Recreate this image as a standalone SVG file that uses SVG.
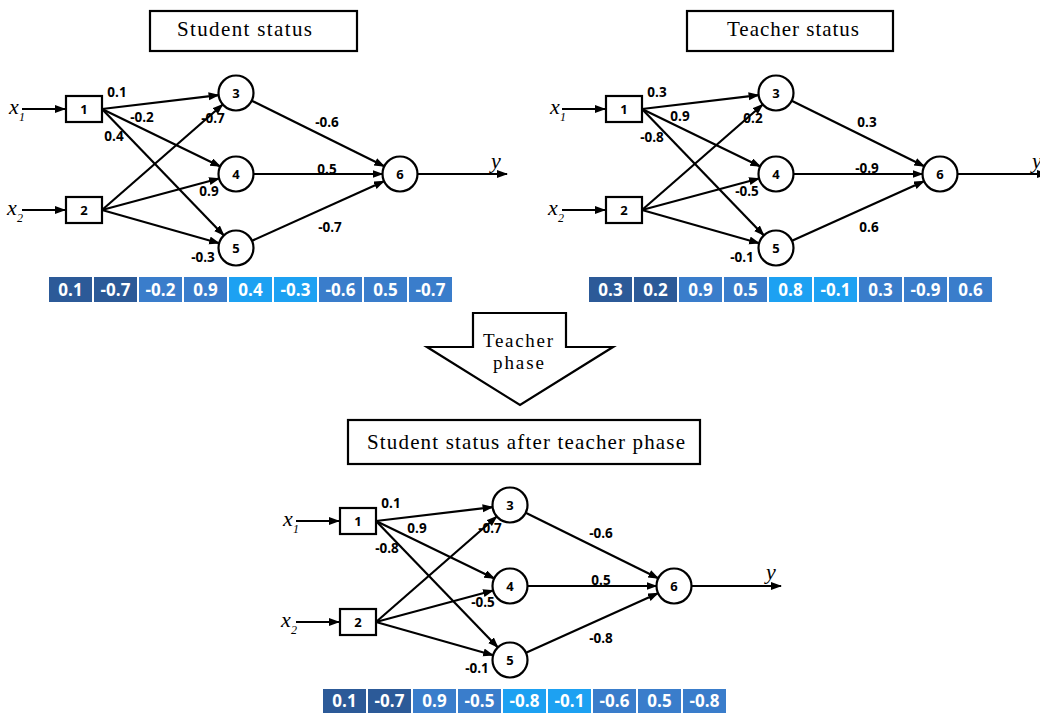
<svg xmlns="http://www.w3.org/2000/svg" width="1040" height="716" viewBox="0 0 1040 716">
<defs>
<style>
.box{fill:#fff;stroke:#000;stroke-width:2.2}
.node{fill:#fff;stroke:#000;stroke-width:2.2}
.edge{fill:none;stroke:#000;stroke-width:2.2;marker-end:url(#ah)}
.nl{font-family:"Open Sans","DejaVu Sans",sans-serif;font-weight:bold;font-size:13px;text-anchor:middle;fill:#000}
.el{font-family:"Open Sans","DejaVu Sans",sans-serif;font-weight:bold;font-size:13.5px;text-anchor:middle;fill:#000}
.var{font-family:"Liberation Serif","DejaVu Serif",serif;font-style:italic;font-size:22px;fill:#000}
.sub{font-family:"Liberation Serif","DejaVu Serif",serif;font-style:italic;font-size:12px;fill:#000}
.title{font-family:"Liberation Serif","DejaVu Serif",serif;font-size:21px;text-anchor:middle;fill:#000}
.ph{font-family:"Liberation Serif","DejaVu Serif",serif;font-size:19px;text-anchor:middle;fill:#000}
.cell{stroke:none}
.dk{fill:#2C5A98}
.md{fill:#3A7DCB}
.br{fill:#1DA1F2}
.ct{font-family:"Open Sans","DejaVu Sans",sans-serif;font-weight:bold;font-size:17px;text-anchor:middle;fill:#fff}
</style>
<marker id="ah" markerUnits="userSpaceOnUse" markerWidth="12" markerHeight="10" refX="10" refY="4" orient="auto">
<path d="M0,0 L11,4 L0,8 z" fill="#000"/>
</marker>
</defs>
<rect width="1040" height="716" fill="#fff"/>

<!-- Titles -->
<g id="title-student">
<rect class="box" x="150" y="11" width="207" height="40"/>
<text class="title" x="244.5" y="36" textLength="135" lengthAdjust="spacing">Student status</text>
</g>
<g id="title-teacher">
<rect class="box" x="687" y="11" width="206" height="40"/>
<text class="title" x="793" y="36" textLength="132" lengthAdjust="spacing">Teacher status</text>
</g>
<g id="teacher-phase-arrow">
<polygon class="box" points="473,313 566,313 566,347 613,347 520,405 427,347 473,347"/>
<text class="ph" x="518" y="347" textLength="70" lengthAdjust="spacing">Teacher</text>
<text class="ph" x="518.5" y="369" textLength="51" lengthAdjust="spacing">phase</text>
</g>
<g id="title-after">
<rect class="box" x="348" y="420" width="352" height="44"/>
<text class="title" x="526" y="449" textLength="318" lengthAdjust="spacing">Student status after teacher phase</text>
</g>

<!-- Network A: student status -->
<g id="net-student">
<g id="net-student-connectors">
<path class="edge" d="M22,109 L65,109"/>
<path class="edge" d="M22,210 L65,210"/>
<path class="edge" d="M102,109 L218.6,95.1"/>
<path class="edge" d="M102,109 L220.3,166.4"/>
<path class="edge" d="M102,109 L223.9,235.4"/>
<path class="edge" d="M102,210 L222.8,104.5"/>
<path class="edge" d="M102,210 L219.1,178.5"/>
<path class="edge" d="M102,210 L219.2,243.2"/>
<path class="edge" d="M251.7,100.7 L384.3,166.3"/>
<path class="edge" d="M253.5,174 L382.5,174"/>
<path class="edge" d="M252,240.8 L384,181.2"/>
<path class="edge" d="M417.5,174 L507,174"/>
<text class="el" x="117" y="96.8">0.1</text>
<text class="el" x="142" y="121.8">-0.2</text>
<text class="el" x="114" y="140.8">0.4</text>
<text class="el" x="213" y="122.8">-0.7</text>
<text class="el" x="209" y="195.8">0.9</text>
<text class="el" x="203" y="261.8">-0.3</text>
<text class="el" x="327" y="126.8">-0.6</text>
<text class="el" x="327" y="173.8">0.5</text>
<text class="el" x="330" y="231.8">-0.7</text>
</g>
<g id="s-x1"><text class="var" x="9" y="114">x</text><text class="sub" x="19" y="121">1</text></g>
<g id="s-x2"><text class="var" x="7" y="215">x</text><text class="sub" x="17" y="222">2</text></g>
<g id="s-y"><text class="var" x="491" y="168">y</text></g>
<g id="s-n1"><rect class="box" x="66" y="96" width="36" height="26"/><text class="nl" x="84" y="113.7">1</text></g>
<g id="s-n2"><rect class="box" x="66" y="197" width="36" height="26"/><text class="nl" x="84" y="214.7">2</text></g>
<g id="s-n3"><circle class="node" cx="236" cy="93" r="17.5"/><text class="nl" x="236" y="97.7">3</text></g>
<g id="s-n4"><circle class="node" cx="236" cy="174" r="17.5"/><text class="nl" x="236" y="178.7">4</text></g>
<g id="s-n5"><circle class="node" cx="236" cy="248" r="17.5"/><text class="nl" x="236" y="252.7">5</text></g>
<g id="s-n6"><circle class="node" cx="400" cy="174" r="17.5"/><text class="nl" x="400" y="178.7">6</text></g>
<g id="s-bar">
<rect class="cell dk" x="49" y="277" width="43" height="25"/>
<rect class="cell dk" x="94" y="277" width="43" height="25"/>
<rect class="cell md" x="139" y="277" width="43" height="25"/>
<rect class="cell md" x="184" y="277" width="43" height="25"/>
<rect class="cell br" x="229" y="277" width="43" height="25"/>
<rect class="cell br" x="274" y="277" width="43" height="25"/>
<rect class="cell md" x="319" y="277" width="43" height="25"/>
<rect class="cell md" x="364" y="277" width="43" height="25"/>
<rect class="cell md" x="409" y="277" width="43" height="25"/>
<text class="ct" x="70.5" y="295.5">0.1</text>
<text class="ct" x="115.5" y="295.5">-0.7</text>
<text class="ct" x="160.5" y="295.5">-0.2</text>
<text class="ct" x="205.5" y="295.5">0.9</text>
<text class="ct" x="250.5" y="295.5">0.4</text>
<text class="ct" x="295.5" y="295.5">-0.3</text>
<text class="ct" x="340.5" y="295.5">-0.6</text>
<text class="ct" x="385.5" y="295.5">0.5</text>
<text class="ct" x="430.5" y="295.5">-0.7</text>
</g>
</g>

<!-- Network B: teacher status -->
<g id="net-teacher" transform="translate(540,0)">
<g id="net-teacher-connectors">
<path class="edge" d="M22,109 L65,109"/>
<path class="edge" d="M22,210 L65,210"/>
<path class="edge" d="M102,109 L218.6,95.1"/>
<path class="edge" d="M102,109 L220.3,166.4"/>
<path class="edge" d="M102,109 L223.9,235.4"/>
<path class="edge" d="M102,210 L222.8,104.5"/>
<path class="edge" d="M102,210 L219.1,178.5"/>
<path class="edge" d="M102,210 L219.2,243.2"/>
<path class="edge" d="M251.7,100.7 L384.3,166.3"/>
<path class="edge" d="M253.5,174 L382.5,174"/>
<path class="edge" d="M252,240.8 L384,181.2"/>
<path class="edge" d="M417.5,174 L507,174"/>
<text class="el" x="117" y="96.8">0.3</text>
<text class="el" x="140" y="120.8">0.9</text>
<text class="el" x="112" y="141.8">-0.8</text>
<text class="el" x="213" y="122.8">0.2</text>
<text class="el" x="207" y="195.8">-0.5</text>
<text class="el" x="202" y="261.8">-0.1</text>
<text class="el" x="327" y="126.8">0.3</text>
<text class="el" x="327" y="172.8">-0.9</text>
<text class="el" x="329" y="231.8">0.6</text>
</g>
<g id="t-x1"><text class="var" x="10" y="114">x</text><text class="sub" x="20" y="121">1</text></g>
<g id="t-x2"><text class="var" x="8" y="215">x</text><text class="sub" x="18" y="222">2</text></g>
<g id="t-y"><text class="var" x="492" y="168">y</text></g>
<g id="t-n1"><rect class="box" x="66" y="96" width="36" height="26"/><text class="nl" x="84" y="113.7">1</text></g>
<g id="t-n2"><rect class="box" x="66" y="197" width="36" height="26"/><text class="nl" x="84" y="214.7">2</text></g>
<g id="t-n3"><circle class="node" cx="236" cy="93" r="17.5"/><text class="nl" x="236" y="97.7">3</text></g>
<g id="t-n4"><circle class="node" cx="236" cy="174" r="17.5"/><text class="nl" x="236" y="178.7">4</text></g>
<g id="t-n5"><circle class="node" cx="236" cy="248" r="17.5"/><text class="nl" x="236" y="252.7">5</text></g>
<g id="t-n6"><circle class="node" cx="400" cy="174" r="17.5"/><text class="nl" x="400" y="178.7">6</text></g>
<g id="t-bar">
<rect class="cell dk" x="49" y="277" width="43" height="25"/>
<rect class="cell dk" x="94" y="277" width="43" height="25"/>
<rect class="cell md" x="139" y="277" width="43" height="25"/>
<rect class="cell md" x="184" y="277" width="43" height="25"/>
<rect class="cell br" x="229" y="277" width="43" height="25"/>
<rect class="cell br" x="274" y="277" width="43" height="25"/>
<rect class="cell md" x="319" y="277" width="43" height="25"/>
<rect class="cell md" x="364" y="277" width="43" height="25"/>
<rect class="cell md" x="409" y="277" width="43" height="25"/>
<text class="ct" x="70.5" y="295.5">0.3</text>
<text class="ct" x="115.5" y="295.5">0.2</text>
<text class="ct" x="160.5" y="295.5">0.9</text>
<text class="ct" x="205.5" y="295.5">0.5</text>
<text class="ct" x="250.5" y="295.5">0.8</text>
<text class="ct" x="295.5" y="295.5">-0.1</text>
<text class="ct" x="340.5" y="295.5">0.3</text>
<text class="ct" x="385.5" y="295.5">-0.9</text>
<text class="ct" x="430.5" y="295.5">0.6</text>
</g>
</g>

<!-- Network C: student after teacher phase -->
<g id="net-after" transform="translate(274,412)">
<g id="net-after-connectors">
<path class="edge" d="M22,109 L65,109"/>
<path class="edge" d="M22,210 L65,210"/>
<path class="edge" d="M102,109 L218.6,95.1"/>
<path class="edge" d="M102,109 L220.3,166.4"/>
<path class="edge" d="M102,109 L223.9,235.4"/>
<path class="edge" d="M102,210 L222.8,104.5"/>
<path class="edge" d="M102,210 L219.1,178.5"/>
<path class="edge" d="M102,210 L219.2,243.2"/>
<path class="edge" d="M251.7,100.7 L384.3,166.3"/>
<path class="edge" d="M253.5,174 L382.5,174"/>
<path class="edge" d="M252,240.8 L384,181.2"/>
<path class="edge" d="M417.5,174 L507,174"/>
<text class="el" x="117" y="95.8">0.1</text>
<text class="el" x="143" y="120.8">0.9</text>
<text class="el" x="113" y="140.8">-0.8</text>
<text class="el" x="216" y="120.8">-0.7</text>
<text class="el" x="209" y="194.8">-0.5</text>
<text class="el" x="203" y="260.8">-0.1</text>
<text class="el" x="327" y="125.8">-0.6</text>
<text class="el" x="327" y="172.8">0.5</text>
<text class="el" x="327" y="230.8">-0.8</text>
</g>
<g id="a-x1"><text class="var" x="9" y="114">x</text><text class="sub" x="19" y="121">1</text></g>
<g id="a-x2"><text class="var" x="7" y="215">x</text><text class="sub" x="17" y="222">2</text></g>
<g id="a-y"><text class="var" x="492" y="167">y</text></g>
<g id="a-n1"><rect class="box" x="66" y="96" width="36" height="26"/><text class="nl" x="84" y="113.7">1</text></g>
<g id="a-n2"><rect class="box" x="66" y="197" width="36" height="26"/><text class="nl" x="84" y="214.7">2</text></g>
<g id="a-n3"><circle class="node" cx="236" cy="93" r="17.5"/><text class="nl" x="236" y="97.7">3</text></g>
<g id="a-n4"><circle class="node" cx="236" cy="174" r="17.5"/><text class="nl" x="236" y="178.7">4</text></g>
<g id="a-n5"><circle class="node" cx="236" cy="248" r="17.5"/><text class="nl" x="236" y="252.7">5</text></g>
<g id="a-n6"><circle class="node" cx="400" cy="174" r="17.5"/><text class="nl" x="400" y="178.7">6</text></g>
<g id="a-bar">
<rect class="cell dk" x="49" y="277" width="43" height="24"/>
<rect class="cell dk" x="94" y="277" width="43" height="24"/>
<rect class="cell md" x="139" y="277" width="43" height="24"/>
<rect class="cell md" x="184" y="277" width="43" height="24"/>
<rect class="cell br" x="229" y="277" width="43" height="24"/>
<rect class="cell br" x="274" y="277" width="43" height="24"/>
<rect class="cell md" x="319" y="277" width="43" height="24"/>
<rect class="cell md" x="364" y="277" width="43" height="24"/>
<rect class="cell md" x="409" y="277" width="43" height="24"/>
<text class="ct" x="70.5" y="295">0.1</text>
<text class="ct" x="115.5" y="295">-0.7</text>
<text class="ct" x="160.5" y="295">0.9</text>
<text class="ct" x="205.5" y="295">-0.5</text>
<text class="ct" x="250.5" y="295">-0.8</text>
<text class="ct" x="295.5" y="295">-0.1</text>
<text class="ct" x="340.5" y="295">-0.6</text>
<text class="ct" x="385.5" y="295">0.5</text>
<text class="ct" x="430.5" y="295">-0.8</text>
</g>
</g>
</svg>
